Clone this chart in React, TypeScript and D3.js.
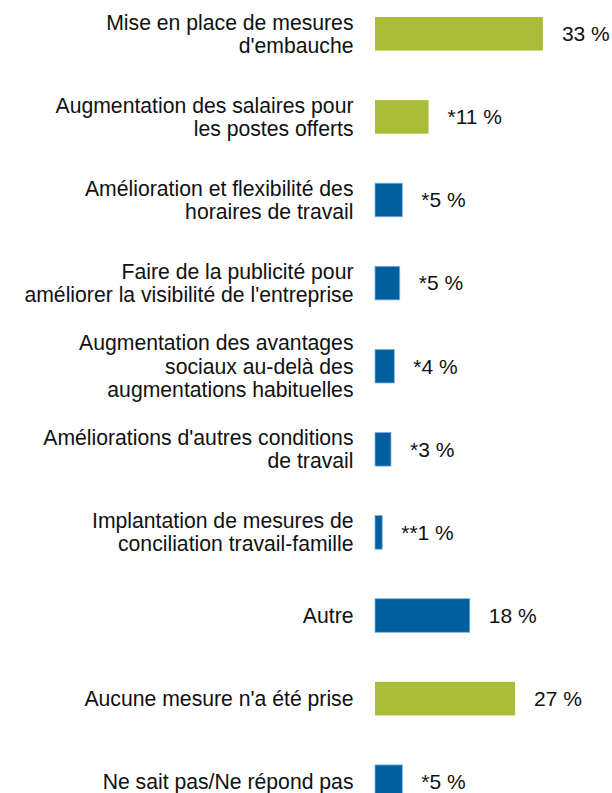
import React from "react";
import * as d3 from "d3";

const categories: string[][] = [
  ["Mise en place de mesures", "d'embauche"],
  ["Augmentation des salaires pour", "les postes offerts"],
  ["Amélioration et flexibilité des", "horaires de travail"],
  ["Faire de la publicité pour", "améliorer la visibilité de l'entreprise"],
  ["Augmentation des avantages", "sociaux au-delà des", "augmentations habituelles"],
  ["Améliorations d'autres conditions", "de travail"],
  ["Implantation de mesures de", "conciliation travail-famille"],
  ["Autre"],
  ["Aucune mesure n'a été prise"],
  ["Ne sait pas/Ne répond pas"],
];
const values: number[] = [32.6, 10.4, 5.3, 4.8, 3.75, 3.1, 1.4, 18.4, 27.2, 5.3];
const valueLabels: string[] = ["33 %", "*11 %", "*5 %", "*5 %", "*4 %", "*3 %", "**1 %", "18 %", "27 %", "*5 %"];
const highlight: boolean[] = [true, true, false, false, false, false, false, false, true, false];

const W = 612;
const H = 793;
const GREEN = "#aabd38";
const BLUE = "#005f9e";
const FONT = "'Liberation Sans', Arial, Helvetica, sans-serif";
const FS = 21.2;
const VFS = 21;
const LH = 23.3;

export default function App() {
  const ids = categories.map((_, i) => String(i));
  const y = d3
    .scaleBand<string>()
    .domain(ids)
    .range([17, 17 + 9 * 83.1 + 33.6])
    .paddingInner(0.596)
    .paddingOuter(0);
  const x = d3.scaleLinear().domain([0, 100]).range([375, 375 + 515]);

  return (
    <svg
      width={W}
      height={H}
      viewBox={`0 0 ${W} ${H}`}
      style={{ position: "absolute", left: 0, top: 0, background: "#fff" }}
    >
      {categories.map((lines, i) => {
        const y0 = y(String(i)) as number;
        const bw = y.bandwidth();
        const cy = y0 + bw / 2;
        const n = lines.length;
        const blue = !highlight[i];
        return (
          <g key={i}>
            <rect
              x={x(0)}
              y={y0}
              width={x(values[i]) - x(0)}
              height={bw}
              fill={blue ? BLUE : GREEN}
              stroke={blue ? "#7fb0dc" : "none"}
              strokeWidth={blue ? 0.8 : 0}
            />
            <text
              x={x(values[i]) + 19}
              y={cy}
              dy="0.35em"
              fontFamily={FONT}
              fontSize={VFS}
              fill="#111"
            >
              {valueLabels[i]}
            </text>
            <text
              textAnchor="end"
              fontFamily={FONT}
              fontSize={FS}
              fill="#111"
            >
              {lines.map((ln, j) => (
                <tspan
                  key={j}
                  x={353.5}
                  y={cy + (j - (n - 1) / 2) * LH}
                  dy="0.35em"
                >
                  {ln}
                </tspan>
              ))}
            </text>
          </g>
        );
      })}
    </svg>
  );
}
